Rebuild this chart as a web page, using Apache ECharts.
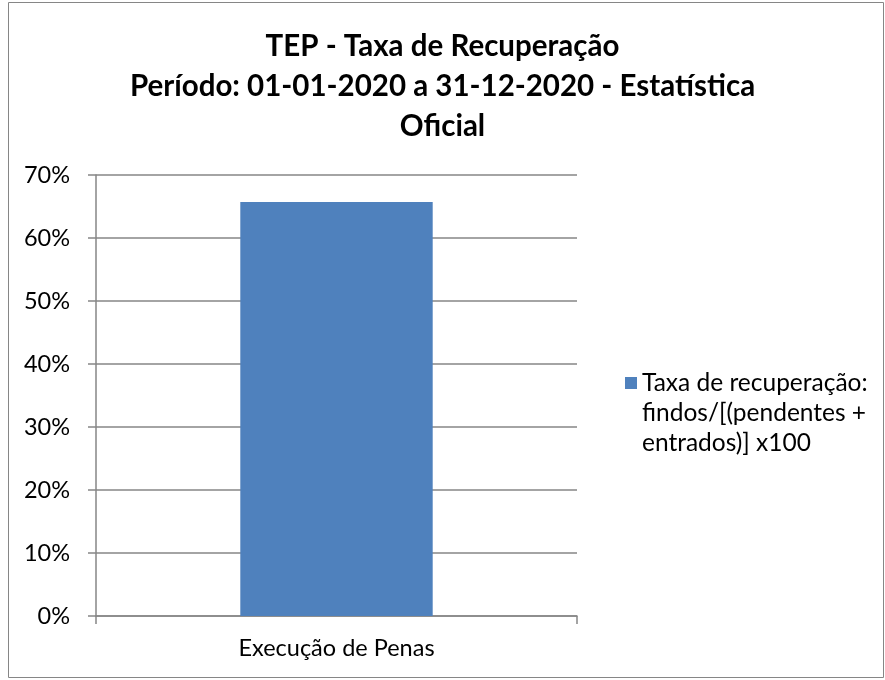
<!DOCTYPE html>
<html>
<head>
<meta charset="utf-8">
<script src="https://cdn.jsdelivr.net/npm/echarts@6/dist/echarts.min.js"></script>
<style>
  html, body { margin: 0; padding: 0; background: #fff; }
  #chart { width: 885px; height: 680px; }
</style>
</head>
<body>
<div id="chart"></div>
<script>
// data
const categories = ["Execução de Penas"];
const seriesName = "Taxa de recuperação: findos/[(pendentes + entrados)] x100";
const recoveryRate = [0.657];
const yTicks = { min: 0, max: 0.7, interval: 0.1 };

const titleText = "TEP - Taxa de Recuperação\nPeríodo: 01-01-2020 a 31-12-2020 - Estatística\nOficial";
const font = "Lato, 'Open Sans', sans-serif";
const gray = "#868686";

const myChart = echarts.init(document.getElementById("chart"));
const option = {
  animation: false,
  textStyle: { fontFamily: font },
  graphic: [
    {
      type: "rect",
      shape: { x: 8.5, y: 2.5, width: 875, height: 675 },
      style: { fill: "none", stroke: gray, lineWidth: 1 },
      silent: true
    }
  ],
  title: {
    text: titleText,
    left: "center",
    top: 21,
    textStyle: {
      fontFamily: font,
      fontSize: 29.5,
      fontWeight: "bold",
      color: "#000",
      lineHeight: 40
    }
  },
  legend: {
    orient: "vertical",
    left: 620,
    top: 303,
    itemWidth: 12,
    itemHeight: 12,
    itemGap: 8,
    icon: "rect",
    formatter: function () {
      // two blank lines on top keep the swatch level with the first line
      return "\u00a0\n\u00a0\nTaxa de recuperação:\nfindos/[(pendentes +\nentrados)] x100";
    },
    textStyle: {
      fontFamily: font,
      fontSize: 24.5,
      color: "#000",
      lineHeight: 30
    },
    data: [seriesName]
  },
  grid: {
    left: 96,
    top: 175,
    right: 308,
    bottom: 64,
    containLabel: false
  },
  xAxis: {
    type: "category",
    data: categories,
    boundaryGap: true,
    axisLine: { show: true, lineStyle: { color: gray, width: 1.5 } },
    axisTick: { show: true, length: 8, lineStyle: { color: gray, width: 1.5 } },
    axisLabel: { fontFamily: font, fontSize: 23.5, color: "#000", margin: 20 }
  },
  yAxis: {
    type: "value",
    min: yTicks.min,
    max: yTicks.max,
    interval: yTicks.interval,
    axisLine: { show: true, lineStyle: { color: gray, width: 1.5 } },
    axisTick: { show: true, length: 8, lineStyle: { color: gray, width: 1.5 } },
    splitLine: { show: true, lineStyle: { color: gray, width: 1.5 } },
    axisLabel: {
      fontFamily: font,
      fontSize: 23.5,
      color: "#000",
      margin: 26,
      formatter: function (v) { return Math.round(v * 100) + "%"; }
    }
  },
  series: [
    {
      name: seriesName,
      type: "bar",
      data: recoveryRate,
      barWidth: "40%",
      itemStyle: { color: "#4F81BD" }
    }
  ]
};
myChart.setOption(option);
</script>
</body>
</html>
